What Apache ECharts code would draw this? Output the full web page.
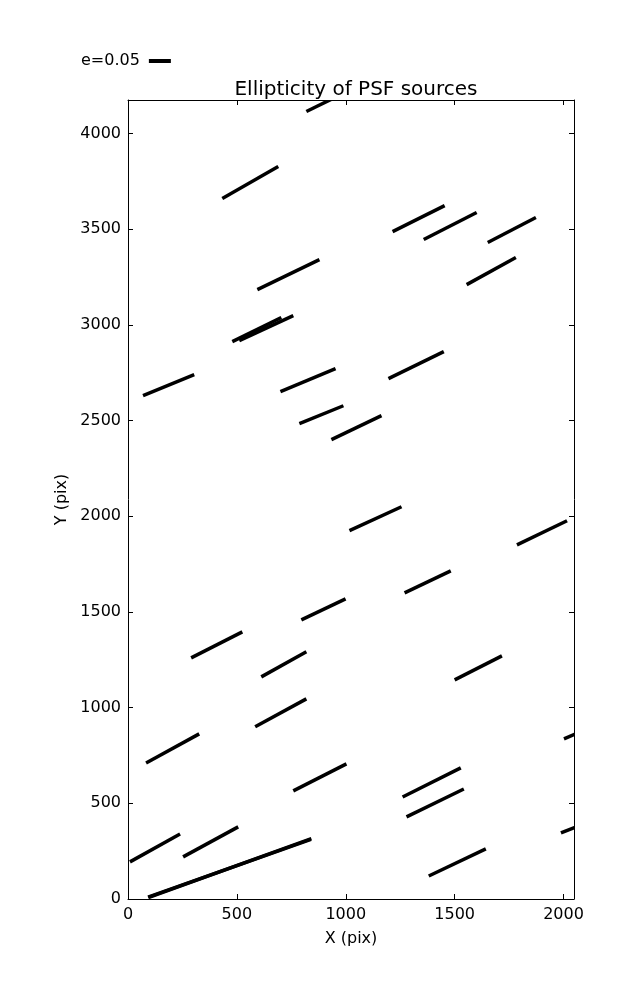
<!DOCTYPE html>
<html><head><meta charset="utf-8">
<script src="https://cdn.jsdelivr.net/npm/echarts@6/dist/echarts.min.js"></script>
<style>html,body{margin:0;padding:0;background:#fff}#c{width:637px;height:1000px}</style>
</head><body><div id="c"></div>
<script>
// Segment endpoints (pix)
const x1 = [92, 95, 9, 253, 83, 290, 584, 612, 759, 796, 1261, 1279, 1381, 1270, 1500, 1017, 1786, 1988, 2002,
            69, 700, 787, 934, 1196, 479, 511, 594, 433, 819, 1215, 1358, 1555, 1652];
const y1 = [10, 8, 194, 220, 711, 1260, 900, 1161, 565, 1459, 533, 429, 120, 1600, 1145, 1925, 1851, 345, 837,
            2631, 2652, 2484, 2401, 2720, 2913, 2918, 3185, 3661, 4116, 3488, 3447, 3211, 3431];
const x2 = [840, 842, 239, 506, 327, 525, 819, 819, 1003, 999, 1528, 1542, 1643, 1482, 1717, 1256, 2016, 2220, 2230,
            304, 953, 989, 1164, 1450, 704, 759, 879, 690, 1060, 1454, 1601, 1781, 1873];
const y2 = [312, 316, 340, 377, 863, 1396, 1046, 1292, 706, 1569, 685, 575, 262, 1715, 1271, 2050, 1977, 450, 950,
            2741, 2772, 2578, 2526, 2861, 3039, 3049, 3342, 3828, 4250, 3624, 3588, 3353, 3562];
const xTicks = [0, 500, 1000, 1500, 2000];
const yTicks = [0, 500, 1000, 1500, 2000, 2500, 3000, 3500, 4000];
const legendLabel = 'e=0.05';

const FONT = 'DejaVu Sans';
const segData = x1.map((_, i) => [x1[i], y1[i], x2[i], y2[i]]);

const tick = (vals) => ({ show: true, inside: true, length: 5, lineStyle: { color: '#000' }, customValues: vals });
const axisCommon = {
  type: 'value', interval: 500,
  splitLine: { show: false },
  axisLine: { show: true, onZero: false, lineStyle: { color: '#000', width: 1 } },
};
const fmt = (v) => String(v);

const chart = echarts.init(document.getElementById('c'), null, { renderer: 'canvas' });
chart.setOption({
  animation: false,
  backgroundColor: '#fff',
  title: { text: 'Ellipticity of PSF sources', left: 351, top: 75, textAlign: 'center',
    textStyle: { fontFamily: FONT, fontSize: 20, fontWeight: 'normal', color: '#000' } },
  legend: { data: [{ name: legendLabel, icon: 'rect' }], left: 76, top: 48, align: 'right',
    itemWidth: 22, itemHeight: 4, itemGap: 0,
    textStyle: { fontFamily: FONT, fontSize: 16, color: '#000', padding: [0, 4, 0, 0] } },
  grid: { left: 128, right: 63, top: 100, bottom: 101, containLabel: false },
  xAxis: [
    Object.assign({}, axisCommon, { position: 'bottom', min: 0, max: 2048,
      name: 'X (pix)', nameLocation: 'middle', nameGap: 32,
      nameTextStyle: { fontFamily: FONT, fontSize: 16, color: '#000' },
      axisLabel: { fontFamily: FONT, fontSize: 16, color: '#000', margin: 8, formatter: fmt, customValues: xTicks },
      axisTick: tick(xTicks) }),
    Object.assign({}, axisCommon, { position: 'top', min: 0, max: 2048,
      axisLabel: { show: false }, axisTick: tick(xTicks) })
  ],
  yAxis: [
    Object.assign({}, axisCommon, { position: 'left', min: 0, max: 4176,
      name: 'Y (pix)', nameLocation: 'middle', nameGap: 50, nameRotate: 90,
      nameTextStyle: { fontFamily: FONT, fontSize: 16, color: '#000' },
      axisLabel: { fontFamily: FONT, fontSize: 16, color: '#000', margin: 7, formatter: fmt, customValues: yTicks },
      axisTick: tick(yTicks) }),
    Object.assign({}, axisCommon, { position: 'right', min: 0, max: 4176,
      axisLabel: { show: false }, axisTick: tick(yTicks) })
  ],
  series: [{
    name: legendLabel, type: 'custom', clip: true, z: 1,
    itemStyle: { color: '#000' }, lineStyle: { width: 0.01 },
    encode: { x: [0, 2], y: [1, 3] },
    data: segData,
    renderItem: function (params, api) {
      const p1 = api.coord([api.value(0), api.value(1)]);
      const p2 = api.coord([api.value(2), api.value(3)]);
      return { type: 'line', shape: { x1: p1[0], y1: p1[1], x2: p2[0], y2: p2[1] },
        style: { stroke: '#000', lineWidth: 3.5, lineCap: 'butt' } };
    }
  }]
});
</script></body></html>
